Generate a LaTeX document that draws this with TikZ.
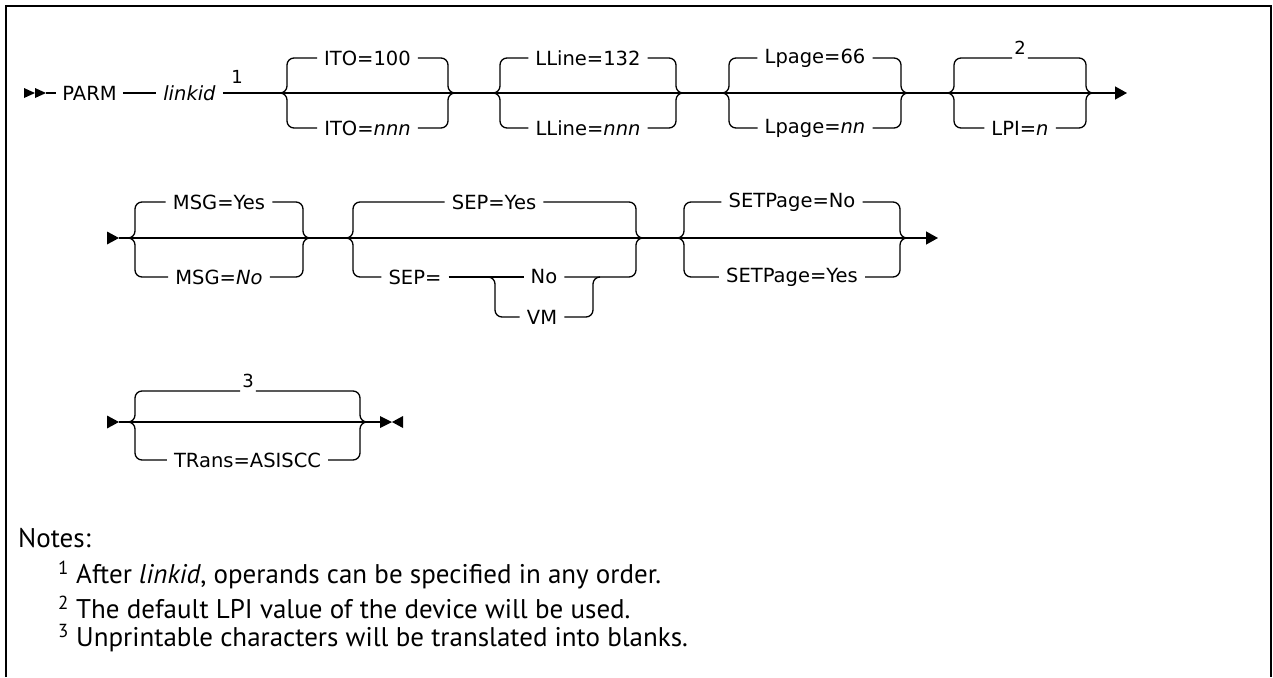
\documentclass[tikz,border=0pt]{standalone}
\usepackage{fontspec}
\setmainfont{DejaVu Sans}
\newfontfamily\notefont{PT Sans}
\usetikzlibrary{arrows.meta,calc,positioning}

\begin{document}
\begin{tikzpicture}[x=1pt,y=-1pt,
  font=\fontsize{19.5}{22}\selectfont,
  wire/.style={line width=1.3pt},
  rail/.style={line width=1.3pt,rounded corners=7pt},
  kw/.style={inner sep=7pt},
  num/.style={font=\fontsize{18}{20}\selectfont,inner xsep=2pt,inner ysep=3pt,anchor=south},
  note/.style={font=\notefont\fontsize{27}{30}\selectfont,anchor=west,inner sep=0pt},
  endtip/.style={-{Triangle[length=12pt,width=13pt]}}]
\useasboundingbox (0,0) rectangle (1273,677);
\draw[line width=2pt] (6,677) -- (6,6) -- (1271,6) -- (1271,677);

% first row
\fill (24,88) -- (35,93) -- (24,98) -- cycle;
\fill (35,88) -- (46,93) -- (35,98) -- cycle;
\coordinate (r1s) at (46,93);
\coordinate (r1e) at (1127,93);
\node[kw,inner sep=6pt] (parm) at (89.5,93) {PARM};
\node[kw] (linkid) at (189.5,93) {\textit{linkid}};
\node[num,anchor=center] (fn1) at (237,77) {1};
\draw[wire] (r1s) -- (parm);
\draw[wire] (parm) -- (linkid);
\draw[wire,endtip] (linkid) -- (r1e);

% blocks with two labelled branches
\foreach \n/\L/\R/\ym/\yt/\yb/\top/\bot in {
  ito/280/455/93/58/128/{ITO=100}/{ITO=\textit{nnn}},
  lline/493/683/93/58/128/{LLine=132}/{LLine=\textit{nnn}},
  lpage/722/908/93/58/128/{Lpage=66}/{Lpage=\textit{nn}},
  msg/128/310/238/202/277/{MSG=Yes}/{MSG=\textit{No}},
  setpage/677/907/238/202/277/{SETPage=No}/{SETPage=Yes}}
{
  \node[kw] (\n-t) at ({(\L+\R)/2},\yt) {\top};
  \node[kw] (\n-b) at ({(\L+\R)/2},\yb) {\bot};
  \draw[rail] (\L,\ym) -| (\L+7,\yt) -- (\n-t);
  \draw[rail] (\n-t) -- (\R-7,\yt) |- (\R,\ym);
  \draw[rail] (\L,\ym) -| (\L+7,\yb) -- (\n-b);
  \draw[rail] (\n-b) -- (\R-7,\yb) |- (\R,\ym);
}

% LPI, default on top with note 2
\node[num] (lpi-n) at (1020,58) {2};
\node[kw] (lpi-b) at (1020,128) {LPI=\textit{n}};
\draw[rail] (947,93) -| (954,58) -- (lpi-n.south west);
\draw[rail] (lpi-n.south east) -- (1086,58) |- (1093,93);
\draw[rail] (947,93) -| (954,128) -- (lpi-b);
\draw[rail] (lpi-b) -- (1086,128) |- (1093,93);

% second row
\fill (107,231.5) -- (119,238) -- (107,244.5) -- cycle;
\coordinate (r2s) at (119,238);
\coordinate (r2e) at (938,238);
\draw[wire,endtip] (r2s) -- (r2e);

% SEP with nested No / VM
\node[kw] (sep-t) at (494,202) {SEP=Yes};
\node[kw] (sep-eq) at (415,277) {SEP=};
\node[kw] (sep-no) at (544,277) {No};
\node[kw] (sep-vm) at (542,317) {VM};
\draw[rail] (346,238) -| (353,202) -- (sep-t);
\draw[rail] (sep-t) -- (636,202) |- (643,238);
\draw[rail] (346,238) -| (353,277) -- (sep-eq);
\draw[wire] (sep-eq) -- (sep-no);
\draw[rail] (sep-no) -- (636,277) |- (643,238);
\draw[rail] (488,277) -| (495,317) -- (sep-vm);
\draw[rail] (sep-vm) -- (593,317) |- (600,277);

% third row
\fill (107,415.5) -- (119,422) -- (107,428.5) -- cycle;
\coordinate (r3s) at (119,422);
\coordinate (r3e) at (380,422);
\draw[wire] (r3s) -- (r3e);
\fill (380,416) -- (392,422) -- (380,428) -- cycle;
\fill (403,416) -- (392,422) -- (403,428) -- cycle;
\node[num] (trn-n) at (248,391) {3};
\node[kw] (trn-b) at (247.5,460) {TRans=ASISCC};
\draw[rail] (128,422) -| (135,391) -- (trn-n.south west);
\draw[rail] (trn-n.south east) -- (360,391) |- (367,422);
\draw[rail] (128,422) -| (135,460) -- (trn-b);
\draw[rail] (trn-b) -- (360,460) |- (367,422);

% notes
\node[note] (notes) at (18,538) {Notes:};
\node[note] (note1) at (58,575) {\textsuperscript{1} After \textit{linkid}, operands can be specified in any order.};
\node[note] (note2) at (58,607) {\textsuperscript{2} The default LPI value of the device will be used.};
\node[note] (note3) at (58,638) {\textsuperscript{3} Unprintable characters will be translated into blanks.};
\end{tikzpicture}
\end{document}
